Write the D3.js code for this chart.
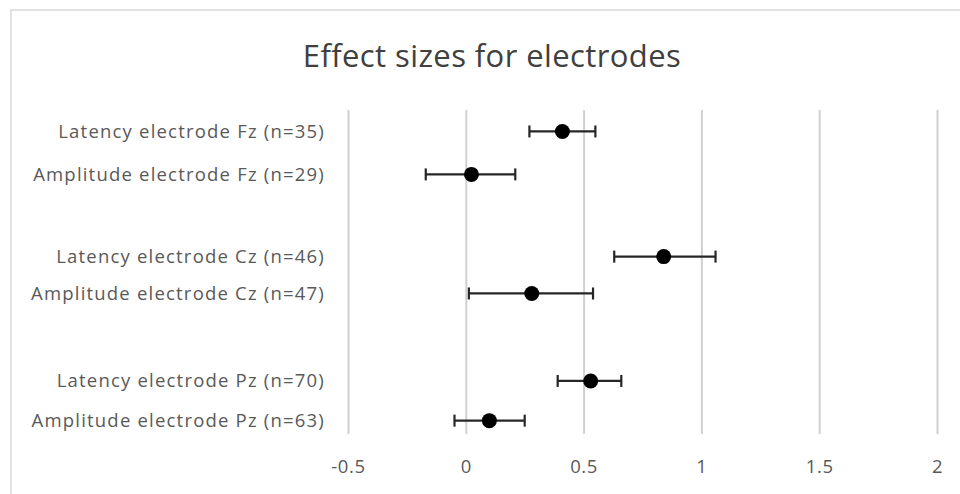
<!DOCTYPE html>
<html>
<head>
<meta charset="utf-8">
<script src="https://cdn.jsdelivr.net/npm/d3@7"></script>
<style>
  body { margin: 0; background: #fff; }
  text { font-family: "Open Sans", "Noto Sans", sans-serif; fill: #595959; }
</style>
</head>
<body>
<div id="chart"></div>
<script>
// data
const labels = [
  "Latency electrode Fz (n=35)",
  "Amplitude electrode Fz (n=29)",
  "Latency electrode Cz (n=46)",
  "Amplitude electrode Cz (n=47)",
  "Latency electrode Pz (n=70)",
  "Amplitude electrode Pz (n=63)"
];
const effect = [0.41, 0.024, 0.84, 0.28, 0.53, 0.10];
const ciLow = [0.27, -0.17, 0.63, 0.013, 0.39, -0.048];
const ciHigh = [0.55, 0.21, 1.06, 0.54, 0.66, 0.25];
// vertical position of each row on the hidden y axis
const rowPos = [0.53, 1.59, 3.62, 4.53, 6.69, 7.67];
const xTicks = [-0.5, 0, 0.5, 1, 1.5, 2];

const width = 960, height = 494;
const margin = { top: 110, right: 23, bottom: 60, left: 348 };

const svg = d3.select("#chart").append("svg")
  .attr("width", width)
  .attr("height", height);

// chart area border
svg.append("rect")
  .attr("x", 11).attr("y", 10)
  .attr("width", width + 20).attr("height", height + 20)
  .attr("fill", "#fff")
  .attr("stroke", "#d9d9d9")
  .attr("stroke-width", 1.5);

const x = d3.scaleLinear()
  .domain([-0.5, 2])
  .range([margin.left, width - margin.right]);

const y = d3.scaleLinear()
  .domain([0, 8])
  .range([margin.top, height - margin.bottom]);

svg.append("text")
  .attr("x", 492).attr("y", 67)
  .attr("text-anchor", "middle")
  .style("font-size", "31px")
  .style("letter-spacing", "0.4px")
  .style("fill", "#404040")
  .text("Effect sizes for electrodes");

// vertical gridlines + tick labels via axis
const xAxis = d3.axisBottom(x)
  .tickValues(xTicks)
  .tickSize(-(height - margin.bottom - margin.top))
  .tickFormat(d => String(d))
  .tickPadding(26);

const gx = svg.append("g")
  .attr("transform", `translate(0,${height - margin.bottom})`)
  .call(xAxis);
gx.select(".domain").remove();
gx.selectAll(".tick line").attr("stroke", "#d0d0d0").attr("stroke-width", 2);
gx.selectAll(".tick text")
  .style("font-size", "18.5px")
  .style("letter-spacing", "0.6px")
  .style("font-family", "'Open Sans', sans-serif")
  .attr("fill", "#595959");

// row labels
svg.append("g").selectAll("text")
  .data(labels)
  .join("text")
  .attr("x", 325)
  .attr("y", (d, i) => y(rowPos[i]))
  .attr("dy", "0.35em")
  .attr("text-anchor", "end")
  .style("font-size", "18.5px")
  .style("letter-spacing", "1.2px")
  .text(d => d);

const rows = labels.map((d, i) => ({ label: d, v: effect[i], lo: ciLow[i], hi: ciHigh[i], p: rowPos[i] }));

const bars = svg.append("g").attr("stroke", "#262626").attr("stroke-width", 2.2);
bars.selectAll("line.ci")
  .data(rows).join("line").attr("class", "ci")
  .attr("x1", d => x(d.lo)).attr("x2", d => x(d.hi))
  .attr("y1", d => y(d.p)).attr("y2", d => y(d.p));
bars.selectAll("line.capl")
  .data(rows).join("line").attr("class", "capl")
  .attr("x1", d => x(d.lo)).attr("x2", d => x(d.lo))
  .attr("y1", d => y(d.p) - 6).attr("y2", d => y(d.p) + 6);
bars.selectAll("line.caph")
  .data(rows).join("line").attr("class", "caph")
  .attr("x1", d => x(d.hi)).attr("x2", d => x(d.hi))
  .attr("y1", d => y(d.p) - 6).attr("y2", d => y(d.p) + 6);

svg.append("g").selectAll("circle")
  .data(rows).join("circle")
  .attr("cx", d => x(d.v))
  .attr("cy", d => y(d.p))
  .attr("r", 7.5)
  .attr("fill", "#000");
</script>
</body>
</html>
